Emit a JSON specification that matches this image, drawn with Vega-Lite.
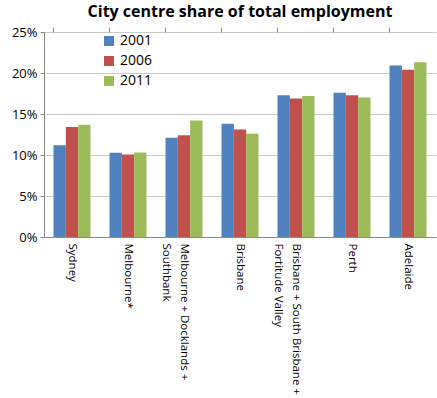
{
  "$schema": "https://vega.github.io/schema/vega-lite/v6.json",
  "autosize": {"type": "none"},
  "padding": {"left": 44, "top": 32, "right": 1, "bottom": 161},
  "width": 392,
  "height": 205,
  "background": "white",
  "title": {"text": "City centre share of total employment", "fontSize": 16, "fontWeight": "bold", "font": "Open Sans", "color": "#000", "offset": 6, "anchor": "middle"},
  "data": {"values": [
    {"city": "Sydney", "year": "2001", "share": 0.112},
    {"city": "Sydney", "year": "2006", "share": 0.134},
    {"city": "Sydney", "year": "2011", "share": 0.137},
    {"city": "Melbourne*", "year": "2001", "share": 0.1026},
    {"city": "Melbourne*", "year": "2006", "share": 0.1005},
    {"city": "Melbourne*", "year": "2011", "share": 0.103},
    {"city": "Melbourne + Docklands +|Southbank", "year": "2001", "share": 0.121},
    {"city": "Melbourne + Docklands +|Southbank", "year": "2006", "share": 0.124},
    {"city": "Melbourne + Docklands +|Southbank", "year": "2011", "share": 0.142},
    {"city": "Brisbane", "year": "2001", "share": 0.138},
    {"city": "Brisbane", "year": "2006", "share": 0.131},
    {"city": "Brisbane", "year": "2011", "share": 0.126},
    {"city": "Brisbane + South Brisbane +|Fortitude Valley", "year": "2001", "share": 0.173},
    {"city": "Brisbane + South Brisbane +|Fortitude Valley", "year": "2006", "share": 0.169},
    {"city": "Brisbane + South Brisbane +|Fortitude Valley", "year": "2011", "share": 0.172},
    {"city": "Perth", "year": "2001", "share": 0.176},
    {"city": "Perth", "year": "2006", "share": 0.173},
    {"city": "Perth", "year": "2011", "share": 0.170},
    {"city": "Adelaide", "year": "2001", "share": 0.209},
    {"city": "Adelaide", "year": "2006", "share": 0.204},
    {"city": "Adelaide", "year": "2011", "share": 0.213}
  ]},
  "encoding": {
    "xOffset": {"field": "year", "type": "nominal"},
    "y": {
      "field": "share", "type": "quantitative", "title": null,
      "scale": {"domain": [0, 0.25], "nice": false},
      "axis": {
        "values": [0, 0.05, 0.1, 0.15, 0.2, 0.25], "format": ".0%",
        "labelFontSize": 13, "labelFont": "Open Sans", "labelColor": "#000",
        "gridColor": "#c8c8c8", "domainColor": "#888", "tickColor": "#888", "tickSize": 4, "labelPadding": 3
      }
    }
  },
  "layer": [
    {
      "mark": {"type": "bar"},
      "encoding": {
        "x": {
          "field": "city", "type": "nominal", "sort": null, "title": null,
          "scale": {"paddingInner": 0.34, "paddingOuter": 0.17},
          "axis": {
            "labelAngle": 90, "labelFontSize": 11.5, "labelFont": "Open Sans", "labelColor": "#000",
            "labelExpr": "split(datum.label, '|')", "labelLineHeight": 18, "labelPadding": 6,
            "ticks": false, "domainColor": "#888", "labelLimit": 300,
            "encode": {"labels": {"update": {"dy": {"signal": "indexof(datum.value, '|') >= 0 ? 9 : 0"}}}}
          }
        },
        "color": {
          "field": "year", "type": "nominal", "title": null,
          "scale": {"domain": ["2001", "2006", "2011"], "range": ["#4F81BD", "#C0504D", "#9BBB59"]},
          "legend": {
            "orient": "none", "legendX": 58, "legendY": 2,
            "symbolType": "square", "symbolSize": 100, "symbolStrokeWidth": 0,
            "labelFontSize": 14, "labelFont": "Open Sans", "labelColor": "#000", "rowPadding": 6
          }
        }
      }
    },
    {
      "mark": {"type": "bar", "opacity": 0},
      "encoding": {
        "x": {
          "field": "city", "type": "nominal", "sort": null, "title": null,
          "axis": {"bandPosition": 0, "labels": false, "domain": false, "ticks": true, "tickColor": "#888", "tickSize": 5, "grid": false}
        }
      }
    }
  ],
  "resolve": {"axis": {"x": "independent"}},
  "config": {"view": {"stroke": null}}
}
